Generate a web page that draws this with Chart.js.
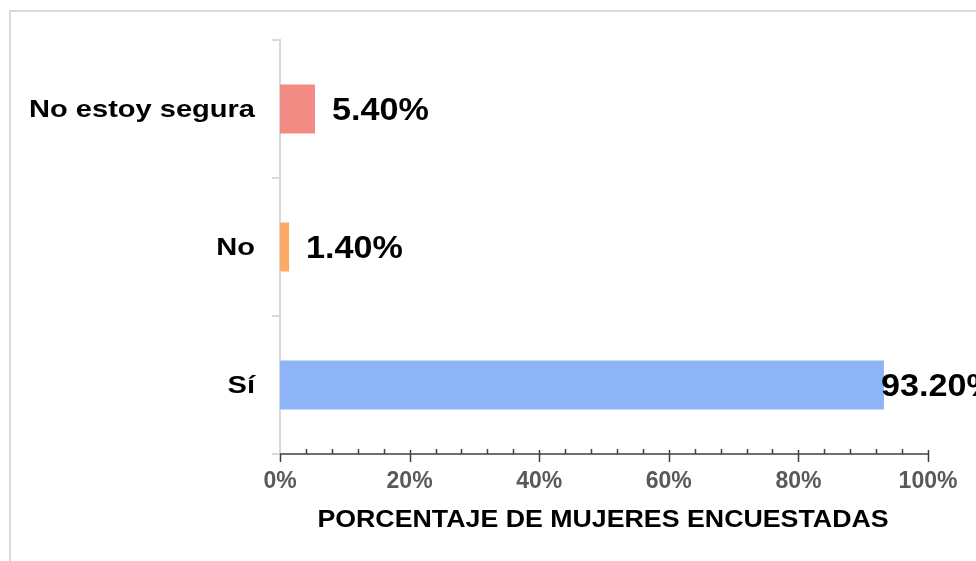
<!DOCTYPE html>
<html>
<head>
<meta charset="utf-8">
<script src="https://cdn.jsdelivr.net/npm/chart.js@4.4.1/dist/chart.umd.min.js"></script>
<style>
  html, body { margin: 0; padding: 0; background: #fff; }
  #wrap { width: 976px; height: 561px; position: relative; }
</style>
</head>
<body>
<div id="wrap"><canvas id="myChart" width="976" height="561"></canvas></div>
<script>
var categories = ['No estoy segura', 'No', 'Sí'];
var values = [5.4, 1.4, 93.2];
var barColors = ['#f28b84', '#fdaa64', '#8db4f7'];
var xTickValues = [0, 20, 40, 60, 80, 100];
var minorStep = 4;
var axisTitle = 'PORCENTAJE DE MUJERES ENCUESTADAS';

var FONT = 'Arial, "Liberation Sans", sans-serif';

// texto ensanchado horizontalmente (el original usa letras más anchas)
function wideText(ctx, txt, x, y, k) {
	ctx.save();
	ctx.translate(x, y);
	ctx.scale(k, 1);
	ctx.fillText(txt, 0, 0);
	ctx.restore();
}

/* marco gris alrededor del gráfico */
var framePlugin = {
	id: 'frame',
	beforeDraw: function(chart) {
		var ctx = chart.ctx;
		ctx.save();
		ctx.fillStyle = '#fff';
		ctx.fillRect(0, 0, chart.width, chart.height);
		ctx.strokeStyle = '#d9d9d9';
		ctx.lineWidth = 2;
		ctx.strokeRect(10, 11, chart.width + 20, chart.height + 20);
		ctx.restore();
	}
};

/* marcas del eje X: mayores cruzan el eje, menores solo arriba */
var xTicksPlugin = {
	id: 'xTicks',
	afterDraw: function(chart) {
		var ctx = chart.ctx;
		var sx = chart.scales.x;
		var y = chart.chartArea.bottom;
		ctx.save();
		ctx.strokeStyle = '#404040';
		ctx.lineWidth = 1.5;
		ctx.beginPath();
		ctx.moveTo(sx.getPixelForValue(0), y);
		ctx.lineTo(sx.getPixelForValue(100), y);
		for (var v = 0; v <= 100; v += minorStep) {
			if (xTickValues.indexOf(v) >= 0) continue;
			var px = Math.round(sx.getPixelForValue(v)) + 0.5;
			ctx.moveTo(px, y - 5);
			ctx.lineTo(px, y);
		}
		for (var i = 0; i < xTickValues.length; i++) {
			var p = Math.round(sx.getPixelForValue(xTickValues[i])) + 0.5;
			ctx.moveTo(p, xTickValues[i] === 0 ? y : y - 4);
			ctx.lineTo(p, y + 8);
		}
		ctx.stroke();

		// titulo del eje
		ctx.font = 'bold 23px ' + FONT;
		ctx.fillStyle = '#000';
		ctx.textAlign = 'center';
		ctx.textBaseline = 'middle';
		wideText(ctx, axisTitle, (sx.left + sx.right) / 2 - 1, 521, 1.163);

		// etiquetas de categoria
		var sy = chart.scales.y;
		ctx.font = 'bold 24px ' + FONT;
		ctx.textAlign = 'right';
		for (var k = 0; k < categories.length; k++) {
			wideText(ctx, categories[k], sy.right - 25, sy.getPixelForValue(k) + 1, 1.21);
		}
		ctx.restore();
	}
};

/* etiquetas de valor */
var labelsPlugin = {
	id: 'valueLabels',
	afterDatasetsDraw: function(chart) {
		var ctx = chart.ctx;
		var meta = chart.getDatasetMeta(0);
		ctx.save();
		ctx.font = 'bold 32px ' + FONT;
		ctx.fillStyle = '#000';
		ctx.textBaseline = 'middle';
		ctx.textAlign = 'left';
		meta.data.forEach(function(bar, i) {
			var txt = values[i].toFixed(2) + '%';
			var w = ctx.measureText(txt).width * 1.067;
			var x = bar.x + 17;
			if (x + w > chart.width) x = bar.x - 3;
			wideText(ctx, txt, x, bar.y + 2, 1.067);
		});
		ctx.restore();
	}
};

var config = {
	type: 'bar',
	data: {
		labels: categories,
		datasets: [{
			data: values,
			backgroundColor: barColors,
			borderWidth: 0,
			barPercentage: 0.355,
			categoryPercentage: 1
		}]
	},
	options: {
		indexAxis: 'y',
		responsive: false,
		animation: false,
		layout: { padding: { top: 40, right: 48, bottom: 0, left: 0 } },
		plugins: {
			legend: { display: false },
			tooltip: { enabled: false }
		},
		scales: {
			x: {
				min: 0,
				max: 100,
				afterFit: function(scale) { scale.height = 107; },
				afterBuildTicks: function(scale) {
					scale.ticks = xTickValues.map(function(v) { return { value: v }; });
				},
				grid: { display: false, drawTicks: true, tickLength: 8 },
				border: { display: false },
				ticks: {
					padding: 6,
					color: '#595959',
					font: { family: FONT, size: 23, weight: 'bold' },
					callback: function(v) { return v + '%'; }
				}
			},
			y: {
				afterFit: function(scale) { scale.width = 280; },
				grid: {
					drawOnChartArea: false,
					tickLength: 8,
					color: '#d9d9d9',
					lineWidth: 2
				},
				border: { color: '#d9d9d9', width: 2 },
				ticks: { display: false }
			}
		}
	},
	plugins: [framePlugin, xTicksPlugin, labelsPlugin]
};

var can = document.getElementById('myChart');
var ctx = can.getContext('2d');
var myChart = new Chart(ctx, config);
</script>
</body>
</html>
